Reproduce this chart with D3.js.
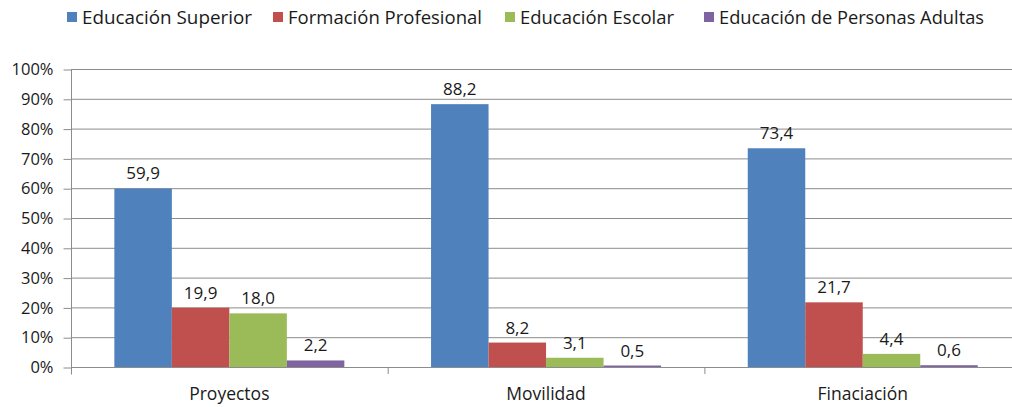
<!DOCTYPE html>
<html>
<head>
<meta charset="utf-8">
<script src="https://cdn.jsdelivr.net/npm/d3@7"></script>
<style>
  html, body { margin: 0; padding: 0; background: #fff; }
  svg { display: block; font-family: "Open Sans", "DejaVu Sans", sans-serif; }
</style>
</head>
<body>
<svg id="chart" width="1012" height="407"></svg>
<script>
// chart data
const categories = ["Proyectos", "Movilidad", "Finaciación"];
const series = ["Educación Superior", "Formación Profesional", "Educación Escolar", "Educación de Personas Adultas"];
const superior = [59.9, 88.2, 73.4];
const profesional = [19.9, 8.2, 21.7];
const escolar = [18.0, 3.1, 4.4];
const adultas = [2.2, 0.5, 0.6];
const yTicks = [0, 10, 20, 30, 40, 50, 60, 70, 80, 90, 100];

const colors = ["#4F81BD", "#C0504D", "#9BBB59", "#8064A2"];
const values = [superior, profesional, escolar, adultas];

const svg = d3.select("#chart");

const plotLeft = 71, plotTop = 69, plotBottom = 367;
const catWidth = 316.7;

//scales
const x = d3.scaleBand()
    .domain(categories)
    .range([plotLeft, plotLeft + catWidth * categories.length])
    .padding(0);

const xs = d3.scaleBand()
    .domain(series)
    .range([0, x.bandwidth()])
    .paddingInner(0)
    .paddingOuter(0.754);

const y = d3.scaleLinear()
    .domain([0, 100])
    .range([plotBottom, plotTop]);

//gridlines
svg.append("g")
    .selectAll("line")
    .data(yTicks)
    .join("line")
    .attr("x1", plotLeft)
    .attr("x2", x.range()[1])
    .attr("y1", d => y(d) + 0.5)
    .attr("y2", d => y(d) + 0.5)
    .attr("stroke", "#8c8c8c")
    .attr("stroke-width", 1);

//y axis
const yaxis = d3.axisLeft(y)
    .tickValues(yTicks)
    .tickSize(8)
    .tickPadding(10)
    .tickFormat(d => d + "%");

const gy = svg.append("g")
    .attr("transform", `translate(${plotLeft + 0.5},0.5)`)
    .call(yaxis);
gy.select(".domain").remove();
gy.selectAll(".tick line").attr("stroke", "#8c8c8c");
gy.selectAll(".tick text")
    .attr("fill", "#1a1a1a")
    .style("font-size", "16.5px")
    .style("font-family", "'Open Sans', sans-serif");
gy.append("line")
    .attr("x1", 0).attr("x2", 0)
    .attr("y1", plotTop).attr("y2", plotBottom + 7)
    .attr("stroke", "#8c8c8c");

//x axis line with ticks at category borders
const gx = svg.append("g");
gx.append("line")
    .attr("x1", plotLeft).attr("x2", x.range()[1])
    .attr("y1", plotBottom + 0.5).attr("y2", plotBottom + 0.5)
    .attr("stroke", "#8c8c8c");
gx.selectAll(".sep")
    .data(categories.slice(1))
    .join("line")
    .attr("class", "sep")
    .attr("x1", d => x(d) + 0.5)
    .attr("x2", d => x(d) + 0.5)
    .attr("y1", plotBottom)
    .attr("y2", plotBottom + 7)
    .attr("stroke", "#8c8c8c");
gx.selectAll(".cat")
    .data(categories)
    .join("text")
    .attr("class", "cat")
    .attr("x", d => x(d) + x.bandwidth() / 2)
    .attr("y", 400)
    .attr("text-anchor", "middle")
    .attr("fill", "#1a1a1a")
    .style("font-size", "17.5px")
    .text(d => d);

//bars
const groups = svg.append("g")
    .selectAll("g")
    .data(series)
    .join("g")
    .attr("fill", (d, i) => colors[i]);

groups.selectAll("rect")
    .data((s, i) => categories.map((c, j) => ({ s, c, v: values[i][j] })))
    .join("rect")
    .attr("x", d => x(d.c) + xs(d.s))
    .attr("width", xs.bandwidth())
    .attr("y", d => y(d.v))
    .attr("height", d => plotBottom - y(d.v));

//value labels
const fmt = d3.format(".1f");
groups.selectAll("text")
    .data((s, i) => categories.map((c, j) => ({ s, c, v: values[i][j] })))
    .join("text")
    .attr("x", d => x(d.c) + xs(d.s) + xs.bandwidth() / 2)
    .attr("y", d => y(d.v) - 9)
    .attr("text-anchor", "middle")
    .attr("fill", "#1a1a1a")
    .style("font-size", "17px")
    .text(d => fmt(d.v).replace(".", ","));

//legend
const legendX = [67, 273, 505, 704];
const legendW = [170, 194, 154, 265];
const legend = svg.append("g")
    .selectAll("g")
    .data(series)
    .join("g")
    .attr("transform", (d, i) => `translate(${legendX[i]},0)`);

legend.append("rect")
    .attr("x", 0)
    .attr("y", 12)
    .attr("width", 10)
    .attr("height", 10)
    .attr("fill", (d, i) => colors[i]);

legend.append("text")
    .attr("x", 15)
    .attr("y", 23.5)
    .attr("fill", "#1a1a1a")
    .style("font-size", "18px")
    .attr("textLength", (d, i) => legendW[i])
    .attr("lengthAdjust", "spacingAndGlyphs")
    .text(d => d);
</script>
</body>
</html>
